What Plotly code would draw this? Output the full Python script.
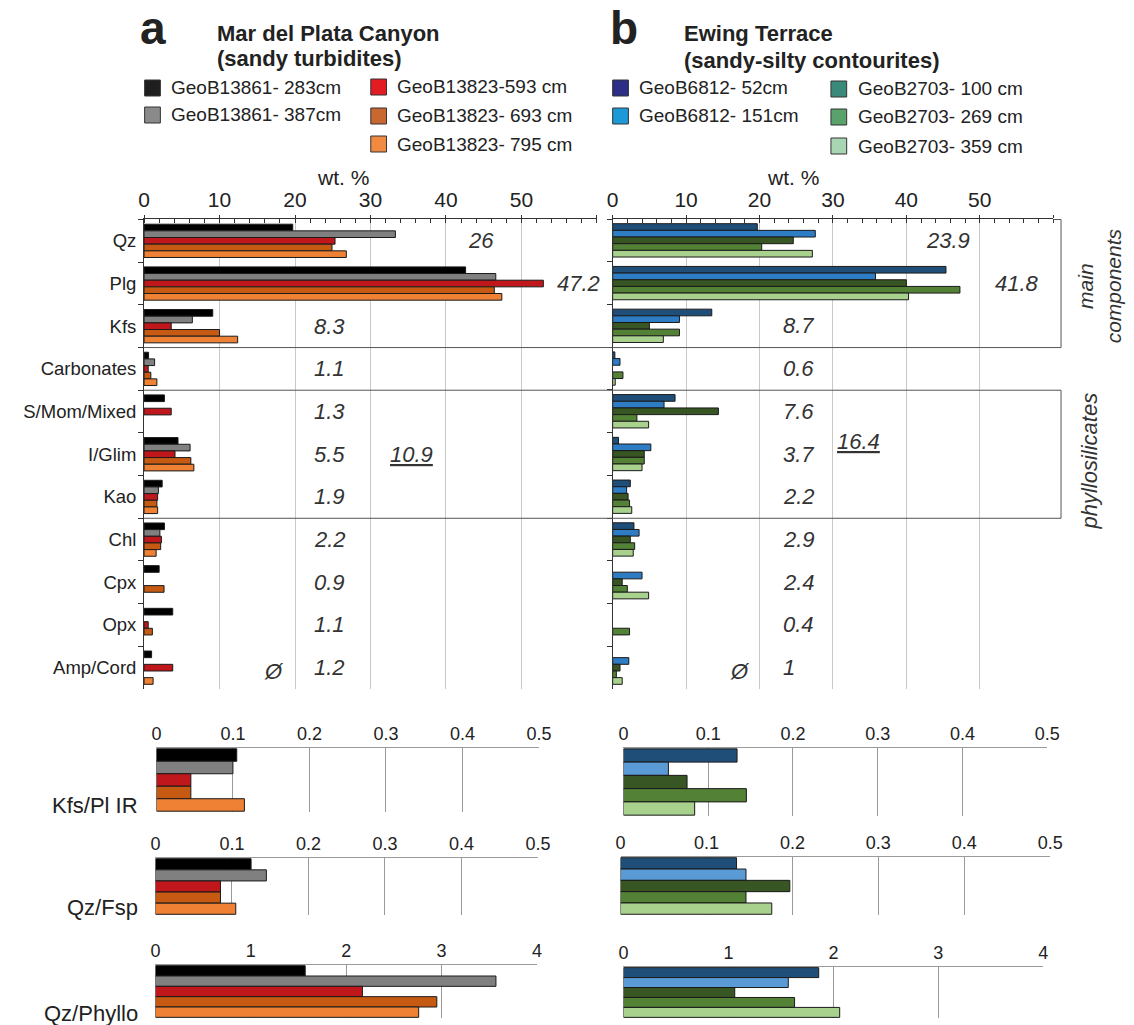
import plotly.graph_objects as go

W, H = 1134, 1025
FONT = "Liberation Sans, Arial, sans-serif"

# ---------------- data ----------------
categories = ["Qz", "Plg", "Kfs", "Carbonates", "S/Mom/Mixed", "I/Glim",
              "Kao", "Chl", "Cpx", "Opx", "Amp/Cord"]

series_a = ["GeoB13861- 283cm", "GeoB13861- 387cm", "GeoB13823-593 cm",
            "GeoB13823- 693 cm", "GeoB13823- 795 cm"]
series_b = ["GeoB6812- 52cm", "GeoB6812- 151cm", "GeoB2703- 100 cm",
            "GeoB2703- 269 cm", "GeoB2703- 359 cm"]

# wt. % — Mar del Plata Canyon
a_283 = [19.7, 42.6, 9.1, 0.6, 2.7, 4.5, 2.4, 2.7, 2.0, 3.8, 1.0]
a_387 = [33.3, 46.6, 6.4, 1.4, None, 6.1, 1.9, 2.1, None, None, None]
a_593 = [25.3, 52.9, 3.6, 0.55, 3.6, 4.1, 1.8, 2.3, None, 0.55, 3.8]
a_693 = [24.9, 46.4, 10.0, 0.9, None, 6.2, 1.7, 2.2, 2.65, 1.1, None]
a_795 = [26.8, 47.4, 12.4, 1.7, None, 6.6, 1.8, 1.6, None, None, 1.2]

# wt. % — Ewing Terrace
b_52 = [19.7, 45.4, 13.5, 0.3, 8.5, 0.8, 2.4, 2.9, None, None, None]
b_151 = [27.6, 35.8, 9.1, 1.0, 7.0, 5.2, 1.9, 3.6, 4.0, None, 2.2]
b_100 = [24.6, 40.0, 5.0, None, 14.4, 4.3, 2.1, 2.4, 1.3, None, 1.0]
b_269 = [20.3, 47.3, 9.1, 1.4, 3.3, 4.3, 2.3, 3.0, 2.0, 2.3, 0.5]
b_359 = [27.2, 40.3, 6.9, 0.35, 4.9, 4.0, 2.6, 2.8, 4.9, None, 1.3]

mean_a = ["26", "47.2", "8.3", "1.1", "1.3", "5.5", "1.9", "2.2", "0.9", "1.1", "1.2"]
mean_b = ["23.9", "41.8", "8.7", "0.6", "7.6", "3.7", "2.2", "2.9", "2.4", "0.4", "1"]
phyllo_sum_a = "10.9"
phyllo_sum_b = "16.4"

wt_ticks = [0, 10, 20, 30, 40, 50, 60]

ratio_labels = ["Kfs/Pl IR", "Qz/Fsp", "Qz/Phyllo"]
ratio_a_kfs_pl = [0.105, 0.100, 0.045, 0.045, 0.115]
ratio_a_qz_fsp = [0.125, 0.145, 0.085, 0.085, 0.105]
ratio_a_qz_phyllo = [1.57, 3.57, 2.17, 2.95, 2.76]
ratio_b_kfs_pl = [0.134, 0.053, 0.075, 0.145, 0.084]
ratio_b_qz_fsp = [0.135, 0.146, 0.197, 0.146, 0.176]
ratio_b_qz_phyllo = [1.86, 1.57, 1.06, 1.63, 2.06]
ratio_ticks_small = [0, 0.1, 0.2, 0.3, 0.4, 0.5]
ratio_ticks_large = [0, 1, 2, 3, 4]

# ---------------- styles ----------------
bar_colors_a = ["#000000", "#808080", "#c0171d", "#c65a12", "#ee8134"]
legend_colors_a = ["#1e1e1e", "#8a8a8a", "#e31b23", "#c8672f", "#f08a41"]
bar_colors_b = ["#1f4e79", "#2e7cc4", "#375623", "#538135", "#a9d18e"]
ratio_colors_b = ["#1f4e79", "#5b9bd5", "#375623", "#538135", "#a9d18e"]
legend_colors_b = ["#2c2f85", "#1b9ad7", "#3a8a7b", "#5aa26b", "#a9d6b2"]


def px(x):
    return x / W


def py(y):
    return 1 - y / H


fig = go.Figure()

vals_a = [a_283, a_387, a_593, a_693, a_795]
vals_b = [b_52, b_151, b_100, b_269, b_359]
for i in range(5):
    fig.add_trace(go.Bar(x=vals_a[i], y=categories, orientation="h", name=series_a[i],
                         marker=dict(color=bar_colors_a[i], line=dict(color="#1a1a1a", width=1)),
                         xaxis="x", yaxis="y", showlegend=False))
for i in range(5):
    fig.add_trace(go.Bar(x=vals_b[i], y=categories, orientation="h", name=series_b[i],
                         marker=dict(color=bar_colors_b[i], line=dict(color="#1a1a1a", width=1)),
                         xaxis="x2", yaxis="y2", showlegend=False))

ratios_a = [ratio_a_kfs_pl, ratio_a_qz_fsp, ratio_a_qz_phyllo]
ratios_b = [ratio_b_kfs_pl, ratio_b_qz_fsp, ratio_b_qz_phyllo]
for r in range(3):
    for i in range(5):
        fig.add_trace(go.Bar(x=[ratios_a[r][i]], y=[ratio_labels[r]], orientation="h",
                             name=series_a[i],
                             marker=dict(color=bar_colors_a[i], line=dict(color="#1a1a1a", width=1)),
                             xaxis=f"x{3 + r}", yaxis=f"y{3 + r}", showlegend=False))
for r in range(3):
    for i in range(5):
        fig.add_trace(go.Bar(x=[ratios_b[r][i]], y=[ratio_labels[r]], orientation="h",
                             name=series_b[i],
                             marker=dict(color=ratio_colors_b[i], line=dict(color="#1a1a1a", width=1)),
                             xaxis=f"x{6 + r}", yaxis=f"y{6 + r}", showlegend=False))

main_ydom = [py(689), py(219)]


def main_x(x0, x1, anchor):
    return dict(domain=[px(x0), px(x1)], anchor=anchor, side="top", range=[0, 60],
                tickvals=wt_ticks, ticktext=[str(v) if v < 60 else "" for v in wt_ticks],
                ticks="outside", ticklen=3, tickcolor="#333",
                showline=True, linecolor="#333", linewidth=1,
                showgrid=True, gridcolor="#c8c8c8", gridwidth=1, zeroline=False,
                minor=dict(dtick=2, ticks="inside", ticklen=4, tickcolor="#333", showgrid=False),
                tickfont=dict(size=21, color="#222", family=FONT), fixedrange=True)


def main_y(anchor, labels):
    return dict(domain=main_ydom, anchor=anchor, type="category", categoryorder="array",
                categoryarray=categories, autorange="reversed",
                showline=True, linecolor="#333", linewidth=1,
                ticks="outside", tickson="boundaries", ticklen=5, tickcolor="#333",
                ticklabelstandoff=3,
                showgrid=False, zeroline=False, showticklabels=labels,
                tickfont=dict(size=18.5, color="#222", family=FONT), fixedrange=True)


def ratio_x(x0, x1, anchor, rng, tv):
    return dict(domain=[px(x0), px(x1)], anchor=anchor, side="top", range=rng, tickvals=tv,
                ticks="", showline=True, linecolor="#9a9a9a", linewidth=1,
                showgrid=True, gridcolor="#9a9a9a", gridwidth=1, zeroline=False,
                tickfont=dict(size=18, color="#222", family=FONT), fixedrange=True)


def ratio_y(y0, y1, anchor):
    return dict(domain=[py(y1), py(y0)], anchor=anchor, type="category", range=[0.4, -0.4],
                autorange=False, showticklabels=False, showline=False, showgrid=False,
                zeroline=False, ticks="", fixedrange=True)


layout = dict(
    width=W, height=H, margin=dict(l=0, r=0, t=0, b=0),
    paper_bgcolor="white", plot_bgcolor="rgba(0,0,0,0)",
    barmode="group", bargap=0.22, bargroupgap=0,
    font=dict(family=FONT, color="#222"),
    showlegend=False,
    xaxis=main_x(140.4, 601, "y"), yaxis=main_y("x", True),
    xaxis2=main_x(617, 1065, "y2"), yaxis2=main_y("x2", False),
    xaxis3=ratio_x(153, 542, "y3", [0, 0.5], ratio_ticks_small), yaxis3=ratio_y(748, 812, "x3"),
    xaxis4=ratio_x(152, 541, "y4", [0, 0.5], ratio_ticks_small), yaxis4=ratio_y(858, 915, "x4"),
    xaxis5=ratio_x(152, 540, "y5", [0, 4], ratio_ticks_large), yaxis5=ratio_y(965, 1018, "x5"),
    xaxis6=ratio_x(628, 1059, "y6", [0, 0.5], ratio_ticks_small), yaxis6=ratio_y(748, 816, "x6"),
    xaxis7=ratio_x(625, 1062, "y7", [0, 0.5], ratio_ticks_small), yaxis7=ratio_y(857, 915, "x7"),
    xaxis8=ratio_x(628, 1055, "y8", [0, 4], ratio_ticks_large), yaxis8=ratio_y(967, 1018, "x8"),
)
fig.update_layout(**layout)

shapes = []
ann = []


def text_px(text, x, y, size, xanchor="center", yanchor="middle", angle=0, italic=False, color="#222"):
    f = dict(size=size, color=color, family=FONT)
    if italic:
        f["style"] = "italic"
    return dict(text=text, x=px(x), y=py(y), xref="paper", yref="paper", xanchor=xanchor,
                yanchor=yanchor, textangle=angle, showarrow=False, font=f)


# group boxes (main components / phyllosilicates)
box_col = "#555555"
for (x0, x1, y0, y1) in [(140.4, 1073, 2.5, 2.5), (1065, 1073, -0.5, -0.5), (1073, 1073, -0.5, 2.5),
                         (140.4, 1073, 3.5, 3.5), (140.4, 1073, 6.5, 6.5), (1073, 1073, 3.5, 6.5)]:
    shapes.append(dict(type="line", xref="paper", yref="y", x0=px(x0), x1=px(x1), y0=y0, y1=y1,
                       line=dict(color=box_col, width=1)))

# panel titles
ann.append(text_px("<b>a</b>", 134, 28, 46, xanchor="left"))
ann.append(text_px("<b>b</b>", 612, 28, 46, xanchor="left"))
ann.append(text_px("<b>Mar del Plata Canyon</b>", 213, 33, 22, xanchor="left"))
ann.append(text_px("<b>(sandy turbidites)</b>", 213, 58, 22, xanchor="left"))
ann.append(text_px("<b>Ewing Terrace</b>", 688, 33, 22, xanchor="left"))
ann.append(text_px("<b>(sandy-silty contourites)</b>", 688, 60, 22, xanchor="left"))

# custom legends
leg_a_pos = [(141, 88), (141, 115), (371, 87), (371, 116), (371, 144)]
leg_b_pos = [(617, 88), (617, 116), (839, 89), (839, 117), (839, 146)]
for names, cols, poss in [(series_a, legend_colors_a, leg_a_pos), (series_b, legend_colors_b, leg_b_pos)]:
    for nm, c, (lx, ly) in zip(names, cols, poss):
        shapes.append(dict(type="rect", xref="paper", yref="paper", x0=px(lx), x1=px(lx + 16),
                           y0=py(ly + 8), y1=py(ly - 8), fillcolor=c,
                           line=dict(color="#333", width=1)))
        ann.append(text_px(nm, lx + 25, ly, 19, xanchor="left"))

# axis titles
ann.append(text_px("wt. %", 343, 178, 21))
ann.append(text_px("wt. %", 800, 178, 21))

# mean values per mineral
it_font = dict(size=22, color="#333", family=FONT, style="italic")
xpos_a = [42.6, 54.4] + [22.2] * 9
xpos_b = [42.4, 51.8] + [22.9] * 9
for cat, m, xp in zip(categories, mean_a, xpos_a):
    ann.append(dict(text=m, x=xp, y=cat, xref="x", yref="y", xanchor="left", yanchor="middle",
                    showarrow=False, font=it_font))
for cat, m, xp in zip(categories, mean_b, xpos_b):
    ann.append(dict(text=m, x=xp, y=cat, xref="x2", yref="y2", xanchor="left", yanchor="middle",
                    showarrow=False, font=it_font))
ann.append(dict(text="<u>" + phyllo_sum_a + "</u>", x=35.4, y=5, xref="x", yref="y",
                xanchor="center", yanchor="middle", showarrow=False, font=it_font))
ann.append(dict(text="<u>" + phyllo_sum_b + "</u>", x=33.5, y=4.7, xref="x2", yref="y2",
                xanchor="center", yanchor="middle", showarrow=False, font=it_font))
ann.append(dict(text="Ø", x=17.2, y=10.1, xref="x", yref="y", xanchor="center", yanchor="middle",
                showarrow=False, font=it_font))
ann.append(dict(text="Ø", x=17.3, y=10.1, xref="x2", yref="y2", xanchor="center", yanchor="middle",
                showarrow=False, font=it_font))

# side labels
ann.append(text_px("main<br>components", 1112, 286, 21, angle=-90, italic=True, color="#333"))
ann.append(text_px("phyllosilicates", 1102, 461, 22, angle=-90, italic=True, color="#333"))

# ratio row labels
for lab, yy in zip(ratio_labels, [805, 907, 1013]):
    ann.append(text_px(lab, 136, yy, 22, xanchor="right"))

fig.update_layout(shapes=shapes, annotations=ann)
fig.write_html("out.html")
